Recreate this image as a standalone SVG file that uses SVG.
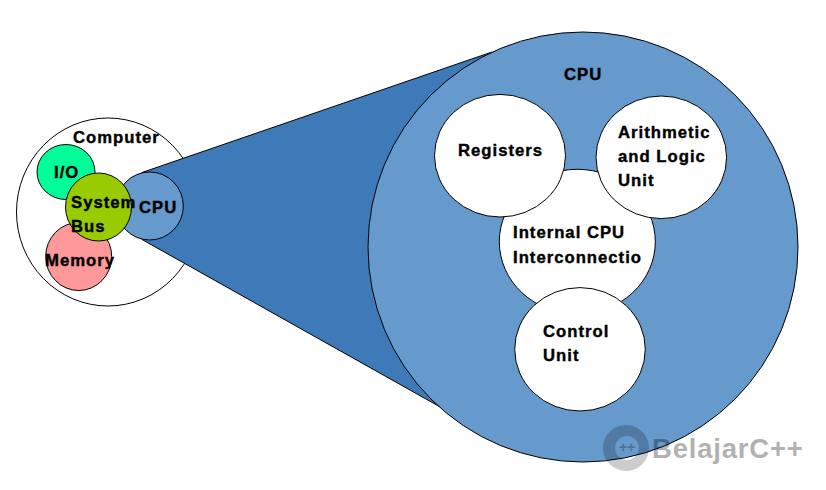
<svg xmlns="http://www.w3.org/2000/svg" width="826" height="490" viewBox="0 0 826 490">
<style>
.s{stroke:#000;stroke-width:1}
.w{fill:#fff}
text{font-family:"Liberation Sans",Arial,sans-serif;font-weight:700;font-size:16.7px;fill:#000;letter-spacing:1px;stroke:#000;stroke-width:.4px}
</style>
<rect width="826" height="490" fill="#fff"/>
<g id="computer"><ellipse class="s w" cx="108" cy="212" rx="91.5" ry="94"/><text x="73" y="143">Computer</text></g>
<g id="connectors"><path class="s" fill="#3e7ab8" d="M142 172.5L492 52L442 408L142 239.5Z"/></g>
<g id="cpu-small"><ellipse class="s" fill="#6699cc" cx="149.7" cy="206" rx="33.6" ry="34"/><text x="139" y="212.5">CPU</text></g>
<g id="io"><ellipse class="s" fill="#00ff99" cx="66" cy="172" rx="29" ry="27.5"/><text x="54" y="177.5">I/O</text></g>
<g id="memory"><ellipse class="s" fill="#ff9999" cx="78.7" cy="256.5" rx="33" ry="34"/></g>
<g id="system-bus"><ellipse class="s" fill="#99cc00" cx="98.5" cy="207" rx="33" ry="34"/><text x="71" y="207.5">System</text><text x="71" y="231.5">Bus</text></g>
<g id="memory-label"><text x="45" y="265.5">Memory</text></g>
<g id="cpu-large"><circle class="s" fill="#6699cc" cx="583" cy="247" r="215"/><text x="564" y="79.5">CPU</text></g>
<g id="internal"><ellipse class="s w" cx="577.3" cy="241.7" rx="78" ry="72.4"/><text x="513" y="237.5">Internal CPU</text><text x="513" y="262.5">Interconnectio</text></g>
<g id="registers"><ellipse class="s w" cx="500" cy="155.7" rx="65.5" ry="61.3"/><text x="458" y="155.5">Registers</text></g>
<g id="alu"><ellipse class="s w" cx="661.3" cy="157.3" rx="65.3" ry="61.3"/><text x="618" y="137.5">Arithmetic</text><text x="618" y="161.5">and Logic</text><text x="618" y="186">Unit</text></g>
<g id="control"><ellipse class="s w" cx="580" cy="349.3" rx="65.3" ry="61.7"/><text x="543" y="336.5">Control</text><text x="543" y="360.5">Unit</text></g>
<g id="watermark"><path fill-rule="evenodd" opacity=".2" d="M649 448A23 23 0 1 1 649 447.9ZM639 448A12 12 0 1 1 639 447.9Z"/><text x="619" y="452" style="font-size:14px;fill:#000;stroke:none;opacity:.25;letter-spacing:0">++</text><text x="652" y="458" style="font-size:27.5px;fill:#000;stroke:none;opacity:.3;letter-spacing:.8px">BelajarC++</text></g>
</svg>
